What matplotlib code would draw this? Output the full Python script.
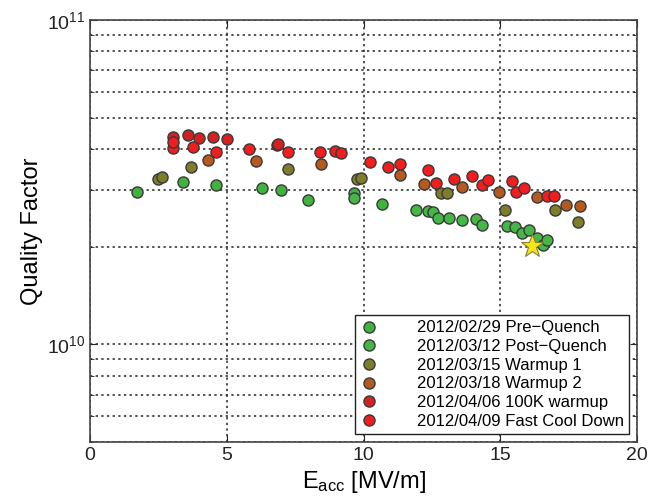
import matplotlib
matplotlib.use("Agg")
import matplotlib.pyplot as plt
from matplotlib.ticker import LogLocator, NullFormatter

plt.rcParams['font.family'] = ['Liberation Sans', 'DejaVu Sans']
plt.rcParams['mathtext.default'] = 'regular'

# Pre-Quench
pre_x = [1.71, 3.41, 4.61, 6.30, 6.97, 7.96, 9.66, 10.66]
pre_q = [2.95e10, 3.16e10, 3.09e10, 3.03e10, 2.99e10, 2.79e10, 2.93e10, 2.71e10]

# Post-Quench
post_x = [9.66, 11.91, 12.37, 12.55, 12.73, 13.14, 13.59, 14.10, 14.32,
          15.23, 15.54, 15.78, 16.06, 16.33, 16.55, 16.72]
post_q = [2.82e10, 2.59e10, 2.57e10, 2.56e10, 2.46e10, 2.45e10, 2.41e10, 2.43e10, 2.33e10,
          2.32e10, 2.30e10, 2.21e10, 2.25e10, 2.13e10, 2.02e10, 2.10e10]

# Warmup 1
w1_x = [2.50, 2.62, 3.69, 7.22, 9.75, 9.89, 12.82, 13.04, 15.17, 17.00, 17.86]
w1_q = [3.24e10, 3.27e10, 3.52e10, 3.47e10, 3.24e10, 3.26e10, 2.92e10, 2.92e10,
        2.59e10, 2.59e10, 2.39e10]

# Warmup 2
w2_x = [4.32, 6.06, 8.43, 11.33, 12.21, 13.59, 14.96, 16.36, 17.39, 17.91]
w2_q = [3.69e10, 3.68e10, 3.59e10, 3.32e10, 3.12e10, 3.05e10, 2.95e10, 2.84e10,
        2.68e10, 2.67e10]

# 100K warmup
k100_x = [3.02, 3.57, 3.99, 4.51, 4.99, 6.82, 6.86]
k100_q = [4.36e10, 4.41e10, 4.32e10, 4.36e10, 4.29e10, 4.12e10, 4.15e10]

# Fast Cool Down
fcd_x = [3.02, 3.02, 3.78, 4.61, 5.81, 7.23, 8.41, 8.95, 9.16, 10.24, 10.91, 11.33,
         12.37, 12.64, 13.31, 13.98, 14.32, 14.54, 15.42, 15.59, 15.88, 16.72, 16.98]
fcd_q = [4.03e10, 4.22e10, 4.07e10, 3.92e10, 4.01e10, 3.91e10, 3.92e10, 3.95e10,
         3.89e10, 3.66e10, 3.52e10, 3.61e10, 3.45e10, 3.14e10, 3.24e10, 3.31e10,
         3.09e10, 3.21e10, 3.20e10, 2.95e10, 3.03e10, 2.86e10, 2.86e10]

# quench point
star_x = [16.17]
star_q = [2.01e10]

series = [
    (pre_x, pre_q, '#3fb23f', '2012/02/29 Pre\u2212Quench'),
    (post_x, post_q, '#46b646', '2012/03/12 Post\u2212Quench'),
    (w1_x, w1_q, '#7d7d2a', '2012/03/15 Warmup 1'),
    (w2_x, w2_q, '#b45a1e', '2012/03/18 Warmup 2'),
    (k100_x, k100_q, '#d42222', '2012/04/06 100K warmup'),
    (fcd_x, fcd_q, '#f01e1e', '2012/04/09 Fast Cool Down'),
]

fig = plt.figure(figsize=(6.48, 5.0), dpi=100)
ax = fig.add_axes([0.139, 0.116, 0.844, 0.844])

for xs, qs, col, lab in series:
    ax.plot(xs, qs, 'o', color=col, markersize=8, markeredgecolor='#3a3a3a',
            markeredgewidth=1.0, label=lab, zorder=3)

ax.plot(star_x, star_q, '*', color='#f5e619', markersize=17,
        markeredgecolor='#8a8030', markeredgewidth=0.8, zorder=4)

ax.set_yscale('log')
ax.set_xlim(0, 20)
ax.set_ylim(5e9, 1e11)
ax.set_xticks([0, 5, 10, 15, 20])
ax.set_yticks([1e10, 1e11], labels=[r'$10^{10}$', r'$10^{11}$'])
ax.yaxis.set_minor_locator(LogLocator(base=10, subs=range(2, 10)))
ax.yaxis.set_minor_formatter(NullFormatter())

ax.tick_params(which='both', direction='in', top=True, right=True,
               labelsize=14, colors='#222222')
ax.tick_params(which='major', length=5)
ax.tick_params(which='minor', length=3)

ax.grid(True, which='major', axis='x', linestyle=(0, (1.5, 2.2)), color='#222222', linewidth=1.1)
ax.grid(True, which='both', axis='y', linestyle=(0, (1.5, 2.2)), color='#222222', linewidth=1.1)

for s in ax.spines.values():
    s.set_color('#444444')
    s.set_linewidth(1.2)

ax.set_xlabel(r'$E_{acc}$ [MV/m]', fontsize=17, labelpad=4)
ax.set_ylabel('Quality Factor', fontsize=17, labelpad=3)

leg = ax.legend(loc='lower right', fontsize=12, frameon=True, fancybox=False,
                framealpha=1, edgecolor='#222222', borderpad=0.3,
                handletextpad=2.3, labelspacing=0.22, borderaxespad=0.5,
                handlelength=1.1)
leg.get_frame().set_linewidth(1.0)

fig.savefig('out.png', dpi=100)
